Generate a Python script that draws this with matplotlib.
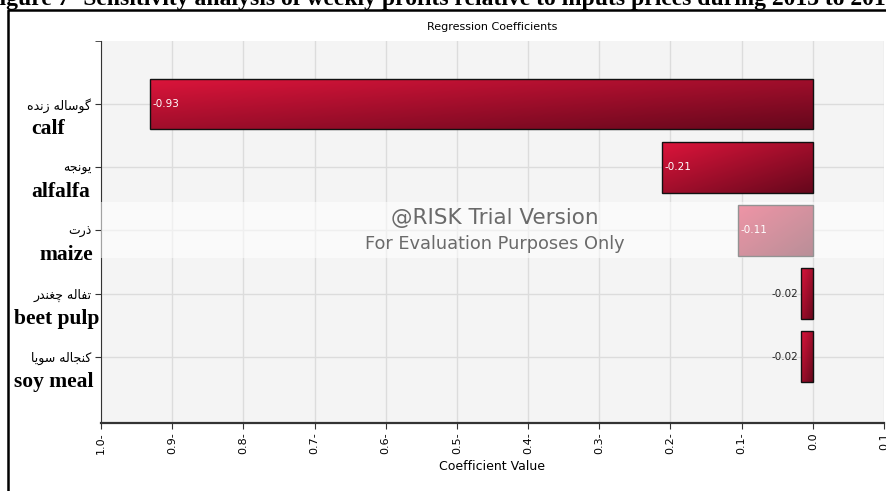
import numpy as np
import matplotlib
matplotlib.use("Agg")
import matplotlib.pyplot as plt
from matplotlib.lines import Line2D

names_fa = ["گوساله زنده", "یونجه", "ذرت", "تفاله چغندر", "کنجاله سویا"]
names_en = ["calf", "alfalfa", "maize", "beet pulp", "soy meal"]
coef = [-0.931, -0.212, -0.105, -0.017, -0.016]
coef_txt = ["-0.93", "-0.21", "-0.11", "-0.02", "-0.02"]
xticks = [-1.0, -0.9, -0.8, -0.7, -0.6, -0.5, -0.4, -0.3, -0.2, -0.1, 0.0, 0.1]

# minimal persian shaping (matplotlib has no bidi / joining)
FORMS = {
    "ا": (0xFE8D, 0xFE8E, None, None), "ت": (0xFE95, 0xFE96, 0xFE97, 0xFE98),
    "ج": (0xFE9D, 0xFE9E, 0xFE9F, 0xFEA0), "چ": (0xFB7A, 0xFB7B, 0xFB7C, 0xFB7D),
    "د": (0xFEA9, 0xFEAA, None, None), "ذ": (0xFEAB, 0xFEAC, None, None),
    "ر": (0xFEAD, 0xFEAE, None, None), "ز": (0xFEAF, 0xFEB0, None, None),
    "س": (0xFEB1, 0xFEB2, 0xFEB3, 0xFEB4), "غ": (0xFECD, 0xFECE, 0xFECF, 0xFED0),
    "ف": (0xFED1, 0xFED2, 0xFED3, 0xFED4), "ک": (0xFB8E, 0xFB8F, 0xFB90, 0xFB91),
    "گ": (0xFB92, 0xFB93, 0xFB94, 0xFB95), "ل": (0xFEDD, 0xFEDE, 0xFEDF, 0xFEE0),
    "ن": (0xFEE5, 0xFEE6, 0xFEE7, 0xFEE8), "ه": (0xFEE9, 0xFEEA, 0xFEEB, 0xFEEC),
    "و": (0xFEED, 0xFEEE, None, None), "ی": (0xFBFC, 0xFBFD, 0xFBFE, 0xFBFF),
}


def shape(s):
    out = []
    for i, ch in enumerate(s):
        if ch not in FORMS:
            out.append(ch)
            continue
        f = FORMS[ch]
        prev = s[i - 1] if i > 0 else ""
        nxt = s[i + 1] if i < len(s) - 1 else ""
        jp = prev in FORMS and FORMS[prev][2] is not None
        jn = f[2] is not None and nxt in FORMS
        if jp and jn:
            cp = f[3]
        elif jp:
            cp = f[1]
        elif jn:
            cp = f[2]
        else:
            cp = f[0]
        out.append(chr(cp))
    return "".join(out[::-1])


fig = plt.figure(figsize=(8.86, 4.91), dpi=100)
ax = fig.add_axes([101 / 886, 68 / 491, 783 / 886, 382 / 491])
ax.set_facecolor("#f4f4f4")

y = np.arange(len(coef))
h = 0.8
c0 = np.array([0.86, 0.08, 0.23])
c1 = np.array([0.40, 0.03, 0.11])
uu, vv = np.meshgrid(np.linspace(0, 1, 60), np.linspace(0, 1, 30))
t = ((uu + vv) / 2)[..., None]
grad = c0 * (1 - t) + c1 * t

bars = ax.barh(y, coef, height=h, facecolor="none", edgecolor="#111111", lw=1, zorder=3)
for b, yi, v in zip(bars, y, coef):
    im = ax.imshow(grad, extent=(v, 0, yi + h / 2, yi - h / 2), origin="upper",
                   aspect="auto", zorder=2, interpolation="bilinear")
    im.set_clip_path(b)

for yi, v, s in zip(y, coef, coef_txt):
    if abs(v) > 0.05:
        ax.text(v + 0.004, yi, s, color="white", fontsize=7.5, va="center", ha="left", zorder=4)
    else:
        ax.text(v - 0.004, yi, s, color="#222222", fontsize=7.5, va="center", ha="right", zorder=4)

ax.set_xlim(-1.0, 0.1)
ax.set_ylim(5.05, -1.0)
ax.set_xticks(xticks)
ax.set_xticklabels([f"{abs(v):.1f}-" if v < -1e-9 else f"{abs(v):.1f}" for v in xticks],
                   rotation=90, fontsize=8)
ax.set_yticks(y)
ax.set_yticklabels([shape(n) for n in names_fa], fontsize=9, family="DejaVu Sans")
ax.set_yticks([-1.0], minor=True)
ax.grid(color="#dcdcdc", lw=1)
ax.set_axisbelow(True)
ax.tick_params(length=4, color="#333333", pad=3)
ax.tick_params(axis="y", which="minor", length=4, color="#333333")
for s in ["top", "right"]:
    ax.spines[s].set_visible(False)
ax.spines["left"].set_color("#333333")
ax.spines["bottom"].set_color("#333333")
ax.spines["bottom"].set_linewidth(1.6)

ax.set_title("Regression Coefficients", fontsize=8, pad=8)
ax.set_xlabel("Coefficient Value", fontsize=9, labelpad=4)

# english names under the persian tick labels
en_x = [48, 61, 66, 57, 54]
for yi, n, xc in zip(y, names_en, en_x):
    ax.annotate(n, xy=(0, yi), xycoords=("axes fraction", "data"),
                xytext=((xc - 101) * 0.72, -18), textcoords="offset points",
                ha="center", va="center", fontsize=15.5, fontweight="bold",
                family="Liberation Serif")

# @RISK watermark band
ax.axhspan(1.55, 2.43, color="white", alpha=0.55, zorder=5, lw=0)
ax.text(0.503, 0.537, "@RISK Trial Version", transform=ax.transAxes, ha="center",
        va="center", fontsize=15.5, color="#6a6a6a", zorder=6)
ax.text(0.503, 0.469, "For Evaluation Purposes Only", transform=ax.transAxes, ha="center",
        va="center", fontsize=12.8, color="#6a6a6a", zorder=6)

# page frame and the cut-off caption above it
fig.add_artist(Line2D([8 / 886, 8 / 886, 1.0], [0.0, 1 - 10 / 491, 1 - 10 / 491],
                      color="black", lw=1.8, transform=fig.transFigure))
fig.text(-15 / 886, 1 - 4.5 / 491,
         "Figure 7- Sensitivity analysis of weekly profits relative to inputs prices during 2013 to 2017",
         fontsize=17, fontweight="bold", family="Liberation Serif", va="baseline", ha="left")

fig.savefig("out.png", dpi=100)
